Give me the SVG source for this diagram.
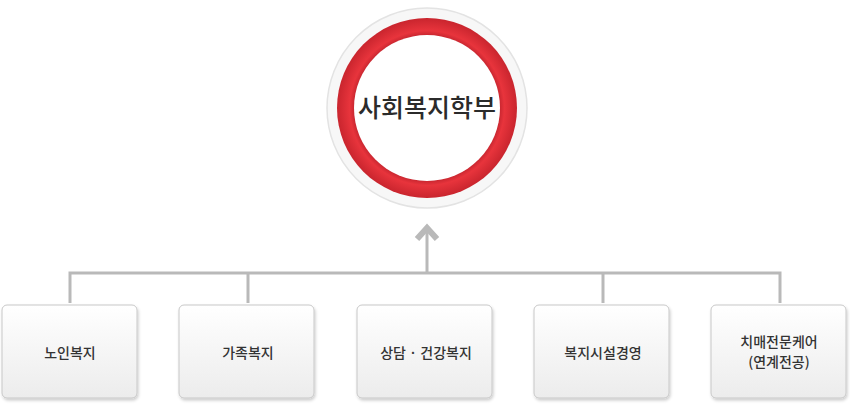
<svg xmlns="http://www.w3.org/2000/svg" width="850" height="420" viewBox="0 0 850 420">
<style>
.box{fill:url(#bg);stroke:#c8c8c8;stroke-width:1}
.t{font-family:"Noto Sans CJK KR","Noto Sans",sans-serif;font-size:14px;fill:#333;text-anchor:middle;font-weight:500}
.c{fill:none;stroke:#b9b9b9;stroke-width:3}
</style>
<defs>
<linearGradient id="bg" x1="0" y1="0" x2="0" y2="1"><stop offset="0" stop-color="#ffffff"/><stop offset="1" stop-color="#ececec"/></linearGradient>
<radialGradient id="rg" cx="0.5" cy="0.5" r="0.5"><stop offset="0.78" stop-color="#b8202a"/><stop offset="0.86" stop-color="#e8343c"/><stop offset="1" stop-color="#c9252e"/></radialGradient>
<filter id="sh" x="-10%" y="-10%" width="130%" height="130%"><feDropShadow dx="1" dy="2" stdDeviation="1.5" flood-color="#000" flood-opacity="0.2"/></filter>
</defs>
<g id="connectors">
<path class="c" d="M70 303V273H780V303M248 273V303M603 273V303M427 273V230"/>
<path class="c" d="M417 239L427 228L437 239" style="stroke-width:6"/>
</g>
<g id="root">
<circle cx="427" cy="108" r="100" fill="#f7f7f7" stroke="#e3e3e3" stroke-width="1.5"/>
<circle cx="427" cy="108" r="90" fill="url(#rg)"/>
<circle cx="427" cy="108" r="73" fill="#fff"/>
<text class="t" x="427" y="117" style="font-size:25px;fill:#2b2b2b;font-weight:500">사회복지학부</text>
</g>
<g id="n1"><rect class="box" x="2" y="305" width="135" height="93" rx="5" filter="url(#sh)"/><text class="t" x="70" y="358">노인복지</text></g>
<g id="n2"><rect class="box" x="179" y="305" width="135" height="93" rx="5" filter="url(#sh)"/><text class="t" x="248" y="358">가족복지</text></g>
<g id="n3"><rect class="box" x="357" y="305" width="135" height="93" rx="5" filter="url(#sh)"/><text class="t" x="426" y="358">상담 · 건강복지</text></g>
<g id="n4"><rect class="box" x="534" y="305" width="135" height="93" rx="5" filter="url(#sh)"/><text class="t" x="603" y="358">복지시설경영</text></g>
<g id="n5"><rect class="box" x="711" y="305" width="135" height="93" rx="5" filter="url(#sh)"/><text class="t" x="779" y="347">치매전문케어</text><text class="t" x="779" y="367">(연계전공)</text></g>
</svg>
